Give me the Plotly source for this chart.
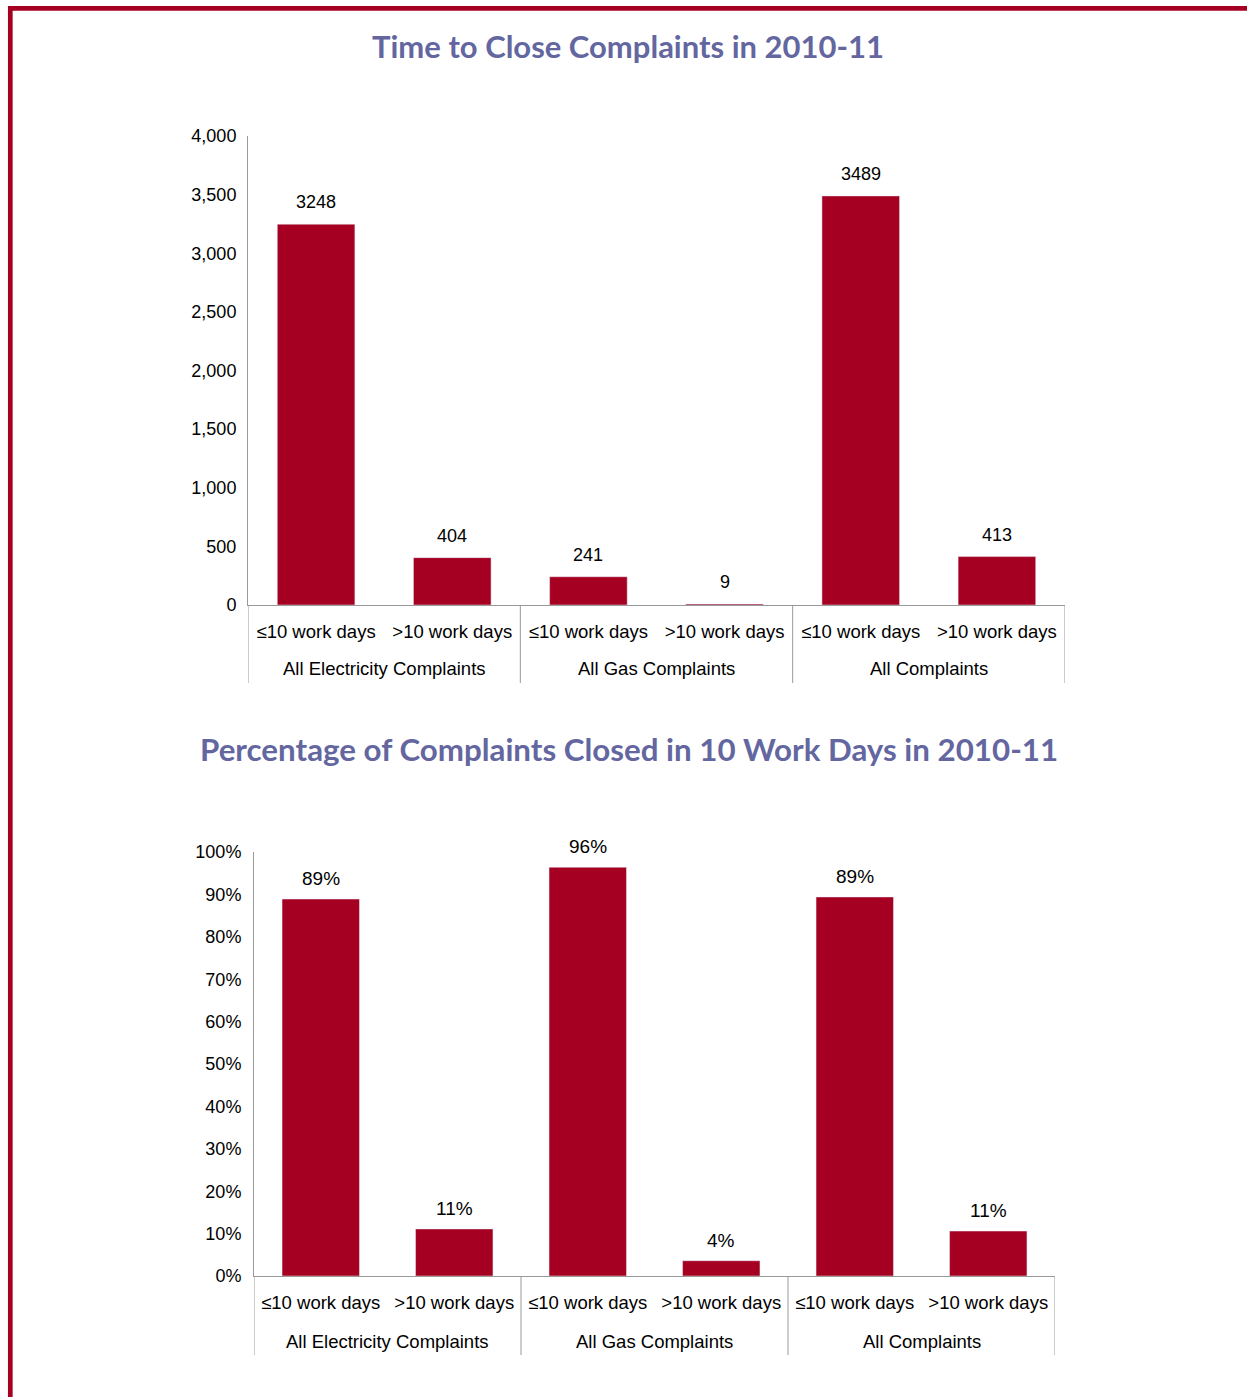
import plotly.graph_objects as go

# Complaint groups and closing-time buckets
groups = ["All Electricity Complaints", "All Gas Complaints", "All Complaints"]
periods = ["≤10 work days", ">10 work days"]

# Number of complaints closed, per group and bucket
counts = [3248, 404, 241, 9, 3489, 413]
# Share of each group's complaints closed within / after 10 work days
shares = [0.889, 0.111, 0.964, 0.036, 0.894, 0.106]

count_ticks = [0, 500, 1000, 1500, 2000, 2500, 3000, 3500, 4000]
share_ticks = [0, 0.1, 0.2, 0.3, 0.4, 0.5, 0.6, 0.7, 0.8, 0.9, 1.0]

titles = [
    "Time to Close Complaints in 2010-11",
    "Percentage of Complaints Closed in 10 Work Days in 2010-11",
]

W, H = 1247, 1397
BAR = "#A50021"
AXIS = "#999999"
TITLE = "#63669F"
FONT = "Liberation Sans, Arial, sans-serif"
TITLE_FONT = "Lato, DejaVu Sans, sans-serif"

inner = [p for _ in groups for p in periods]
pos = list(range(len(inner)))
n_per = len(periods)


def fx(px):
    return px / W


def fy(py):
    return 1 - py / H


fig = go.Figure()

fig.add_trace(go.Bar(
    x=pos, y=counts, marker_color=BAR, width=0.57,
    xaxis="x", yaxis="y", showlegend=False, hoverinfo="skip",
))
fig.add_trace(go.Bar(
    x=pos, y=shares, marker_color=BAR, width=0.58,
    xaxis="x2", yaxis="y2", showlegend=False, hoverinfo="skip",
))

annotations = []
shapes = []

# value labels above the bars
for i, v in enumerate(counts):
    annotations.append(dict(
        x=pos[i], y=v, xref="x", yref="y", text=f"{v}", showarrow=False,
        yanchor="bottom", yshift=10, font=dict(size=18, color="#000000", family=FONT),
    ))
for i, v in enumerate(shares):
    annotations.append(dict(
        x=pos[i], y=v, xref="x2", yref="y2", text=f"{v:.0%}", showarrow=False,
        yanchor="bottom", yshift=8, font=dict(size=19, color="#000000", family=FONT),
    ))

# group labels and dividers under each chart's category axis
# (axis name, pixel row of the axis line, pixel row of group label, bottom of dividers)
panels = [("x", 605, 669, 683), ("x2", 1276, 1341, 1355)]
for xr, axis_px, label_px, bottom_px in panels:
    for g, name in enumerate(groups):
        centre = (pos[g * n_per] + pos[g * n_per + n_per - 1]) / 2
        annotations.append(dict(
            x=centre, y=fy(label_px), xref=xr, yref="paper", text=name,
            showarrow=False, xanchor="center", yanchor="middle",
            font=dict(size=18.5, color="#000000", family=FONT),
        ))
    for b in range(len(groups) + 1):
        edge = b * n_per - 0.5
        shapes.append(dict(
            type="line", xref=xr, yref="paper", x0=edge, x1=edge,
            y0=fy(axis_px), y1=fy(bottom_px), line=dict(color=AXIS, width=1),
        ))

annotations.append(dict(
    x=fx(628), y=fy(46), xref="paper", yref="paper", text=f"<b>{titles[0]}</b>",
    showarrow=False, xanchor="center", yanchor="middle",
    font=dict(size=31, color=TITLE, family=TITLE_FONT),
))
annotations.append(dict(
    x=fx(629), y=fy(749), xref="paper", yref="paper", text=f"<b>{titles[1]}</b>",
    showarrow=False, xanchor="center", yanchor="middle",
    font=dict(size=31.3, color=TITLE, family=TITLE_FONT),
))

# page frame
shapes += [
    dict(type="line", xref="paper", yref="paper", x0=fx(8), x1=1.0,
         y0=fy(8.3), y1=fy(8.3), line=dict(color=BAR, width=4.7)),
    dict(type="line", xref="paper", yref="paper", x0=fx(10.3), x1=fx(10.3),
         y0=fy(6), y1=0, line=dict(color=BAR, width=4.7)),
]

xaxis_common = dict(
    type="linear", showline=True, linecolor=AXIS, linewidth=1,
    showgrid=False, zeroline=False, ticks="", range=[-0.5, 5.5],
    tickvals=pos, ticktext=inner, ticklabelstandoff=10,
    tickfont=dict(size=18.5, color="#000000", family=FONT),
)
yaxis_common = dict(
    showline=True, linecolor=AXIS, linewidth=1, showgrid=False,
    zeroline=False, ticks="",
    tickfont=dict(size=18, color="#000000", family=FONT),
)

fig.update_layout(
    width=W, height=H,
    margin=dict(l=0, r=0, t=0, b=0, autoexpand=False),
    paper_bgcolor="white", plot_bgcolor="white",
    font=dict(family=FONT, color="#000000"),
    xaxis=dict(domain=[fx(248), fx(1065)], anchor="y", **xaxis_common),
    yaxis=dict(domain=[fy(605), fy(136)], anchor="x", range=[0, 4000],
               tickvals=count_ticks, tickformat=",", ticklabelstandoff=7,
               **yaxis_common),
    xaxis2=dict(domain=[fx(254), fx(1055)], anchor="y2", **xaxis_common),
    yaxis2=dict(domain=[fy(1276), fy(852)], anchor="x2", range=[0, 1.0],
                tickvals=share_ticks, tickformat=".0%", ticklabelstandoff=8,
                **yaxis_common),
    annotations=annotations,
    shapes=shapes,
)

fig.write_html("out.html")
